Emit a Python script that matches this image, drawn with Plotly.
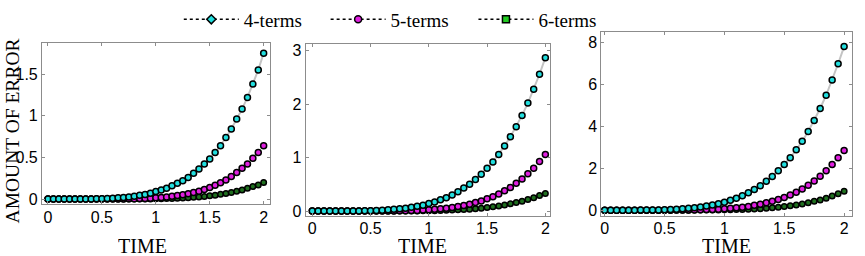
import plotly.graph_objects as go

W, H = 865, 256

time = [0.0, 0.05, 0.1, 0.15, 0.2, 0.25, 0.3, 0.35, 0.4, 0.45,
        0.5, 0.55, 0.6, 0.65, 0.7, 0.75, 0.8, 0.85, 0.9, 0.95,
        1.0, 1.05, 1.1, 1.15, 1.2, 1.25, 1.3, 1.35, 1.4, 1.45,
        1.5, 1.55, 1.6, 1.65, 1.7, 1.75, 1.8, 1.85, 1.9, 1.95, 2.0]

series_names = ["4-terms", "5-terms", "6-terms"]

# Panel 1
p1_4 = [0, 0, 0, 0, 0, 0, 0.0005, 0.001, 0.002, 0.003,
        0.005, 0.008, 0.011, 0.015, 0.02, 0.026, 0.035, 0.045, 0.055, 0.07,
        0.09, 0.11, 0.13, 0.16, 0.19, 0.22, 0.26, 0.31, 0.36, 0.42,
        0.48, 0.56, 0.64, 0.74, 0.84, 0.96, 1.08, 1.22, 1.38, 1.55, 1.75]
p1_5 = [0, 0, 0, 0, 0, 0, 0, 0, 0, 0,
        0, 0, 0.0005, 0.001, 0.002, 0.003, 0.004, 0.006, 0.008, 0.011,
        0.015, 0.02, 0.026, 0.033, 0.042, 0.052, 0.065, 0.08, 0.095, 0.115,
        0.14, 0.165, 0.195, 0.23, 0.27, 0.32, 0.37, 0.42, 0.49, 0.56, 0.64]
p1_6 = [0, 0, 0, 0, 0, 0, 0, 0, 0, 0,
        0, 0, 0, 0, 0, 0.0005, 0.0008, 0.001, 0.0015, 0.002,
        0.003, 0.0045, 0.006, 0.008, 0.01, 0.013, 0.017, 0.021, 0.026, 0.032,
        0.039, 0.047, 0.057, 0.068, 0.08, 0.095, 0.11, 0.13, 0.15, 0.17, 0.2]

# Panel 2
p2_4 = [0, 0, 0, 0, 0, 0, 0.001, 0.002, 0.003, 0.005,
        0.008, 0.012, 0.017, 0.024, 0.032, 0.042, 0.055, 0.07, 0.09, 0.11,
        0.14, 0.17, 0.21, 0.25, 0.3, 0.36, 0.43, 0.5, 0.59, 0.69,
        0.8, 0.92, 1.06, 1.22, 1.39, 1.58, 1.79, 2.02, 2.28, 2.56, 2.87]
p2_5 = [0, 0, 0, 0, 0, 0, 0, 0, 0, 0,
        0.0005, 0.0008, 0.001, 0.002, 0.003, 0.005, 0.007, 0.01, 0.013, 0.018,
        0.025, 0.032, 0.042, 0.054, 0.068, 0.085, 0.105, 0.13, 0.16, 0.19,
        0.23, 0.27, 0.32, 0.38, 0.44, 0.52, 0.6, 0.7, 0.8, 0.93, 1.06]
p2_6 = [0, 0, 0, 0, 0, 0, 0, 0, 0, 0,
        0, 0, 0, 0.0005, 0.0008, 0.001, 0.0015, 0.002, 0.003, 0.004,
        0.006, 0.008, 0.01, 0.014, 0.018, 0.023, 0.029, 0.036, 0.045, 0.055,
        0.067, 0.081, 0.097, 0.115, 0.135, 0.16, 0.185, 0.215, 0.25, 0.29, 0.33]

# Panel 3
p3_4 = [0, 0, 0, 0, 0, 0.001, 0.003, 0.005, 0.009, 0.014,
        0.022, 0.033, 0.047, 0.065, 0.09, 0.12, 0.15, 0.2, 0.25, 0.31,
        0.38, 0.47, 0.57, 0.69, 0.83, 0.99, 1.17, 1.38, 1.6, 1.88,
        2.18, 2.5, 2.88, 3.28, 3.75, 4.28, 4.85, 5.48, 6.2, 6.98, 7.8]
p3_5 = [0, 0, 0, 0, 0, 0, 0, 0, 0.0005, 0.0008,
        0.001, 0.002, 0.004, 0.006, 0.009, 0.013, 0.019, 0.027, 0.037, 0.05,
        0.067, 0.088, 0.115, 0.145, 0.18, 0.23, 0.28, 0.35, 0.42, 0.51,
        0.61, 0.72, 0.86, 1.01, 1.19, 1.39, 1.62, 1.88, 2.18, 2.5, 2.85]
p3_6 = [0, 0, 0, 0, 0, 0, 0, 0, 0, 0,
        0, 0, 0.0005, 0.001, 0.002, 0.003, 0.004, 0.006, 0.008, 0.011,
        0.015, 0.02, 0.027, 0.035, 0.045, 0.058, 0.073, 0.092, 0.115, 0.14,
        0.17, 0.21, 0.25, 0.3, 0.35, 0.42, 0.49, 0.57, 0.67, 0.78, 0.9]

panels = [(p1_4, p1_5, p1_6), (p2_4, p2_5, p2_6), (p3_4, p3_5, p3_6)]

y_tickvals = [[0, 0.5, 1, 1.5], [0, 1, 2, 3], [0, 2, 4, 6, 8]]
y_ticktext = [["0", "0.5", "1", "1.5"], ["0", "1", "2", "3"], ["0", "2", "4", "6", "8"]]
x_tickvals = [0, 0.5, 1, 1.5, 2]
x_ticktext = ["0", "0.5", "1", "1.5", "2"]

# layout (pixels): left, right, top, bottom
boxes = [(41, 269, 38, 206), (305, 550, 39, 218), (601, 852, 26, 218)]
x_ranges = [[-0.056, 2.056], [-0.057, 2.043], [-0.028, 2.066]]
y_ranges = [[-0.061, 1.868], [-0.085, 3.12], [-0.26, 8.5]]
x_standoff = [-1, -2, -2]

fill_colors = ["#22dede", "#e020e0", "#1f6f1f"]
legend_fill = ["#22dede", "#e020e0", "#22cc22"]
legend_symbols = ["diamond", "circle", "square"]
marker_sizes = [6, 6, 5.5]
legend_x_px = [178, 325, 473]

fig = go.Figure()

for k, (s4, s5, s6) in enumerate(panels):
    xa = "x" if k == 0 else f"x{k+1}"
    ya = "y" if k == 0 else f"y{k+1}"
    fig.add_trace(go.Scatter(x=time, y=s4, mode="lines", xaxis=xa, yaxis=ya,
                             line=dict(color="#c4c4c4", width=2), showlegend=False,
                             hoverinfo="skip"))
    for j, s in reversed(list(enumerate([s4, s5, s6]))):
        fig.add_trace(go.Scatter(
            x=time, y=s, mode="markers", xaxis=xa, yaxis=ya,
            name=series_names[j], showlegend=False,
            marker=dict(symbol="circle", size=marker_sizes[j], color=fill_colors[j],
                        line=dict(color="black", width=1.5))))

# legend entries (one legend per entry, for exact placement)
legend_ids = ["legend", "legend2", "legend3"]
for j in range(3):
    fig.add_trace(go.Scatter(
        x=[None], y=[None], mode="lines+markers", name=series_names[j],
        legend=legend_ids[j],
        line=dict(color="black", width=1.5, dash="dot"),
        marker=dict(symbol=legend_symbols[j], size=7, color=legend_fill[j],
                    line=dict(color="black", width=1.5))))

axis_common = dict(showgrid=False, zeroline=False, showline=True, mirror="ticks",
                   linecolor="#8c8c8c", linewidth=1, ticks="inside", ticklen=3,
                   tickcolor="#8c8c8c",
                   tickfont=dict(family="Liberation Sans, Arial", size=16, color="black"))

layout_axes = {}
for k in range(3):
    l, r, t, b = boxes[k]
    xs = "xaxis" if k == 0 else f"xaxis{k+1}"
    ys = "yaxis" if k == 0 else f"yaxis{k+1}"
    anchor_x = "y" if k == 0 else f"y{k+1}"
    anchor_y = "x" if k == 0 else f"x{k+1}"
    layout_axes[xs] = dict(axis_common, domain=[l / W, r / W], range=x_ranges[k],
                           tickvals=x_tickvals, ticktext=x_ticktext, anchor=anchor_x,
                           ticklabelstandoff=x_standoff[k])
    layout_axes[ys] = dict(axis_common, domain=[1 - b / H, 1 - t / H], range=y_ranges[k],
                           tickvals=y_tickvals[k], ticktext=y_ticktext[k], anchor=anchor_y)

legends = {}
for j in range(3):
    legends[legend_ids[j]] = dict(
        orientation="h", x=legend_x_px[j] / W, y=1 - 13 / H, xanchor="left", yanchor="middle",
        font=dict(family="Liberation Serif, Times New Roman", size=19, color="black"),
        itemwidth=55, bgcolor="rgba(0,0,0,0)")

annotations = []
time_centers = [142, 422, 726]
for cx in time_centers:
    annotations.append(dict(text="TIME", x=cx / W, y=0, xref="paper", yref="paper",
                            showarrow=False, xanchor="center", yanchor="bottom",
                            height=18, valign="middle", yshift=-5,
                            font=dict(family="Liberation Serif, Times New Roman", size=20, color="black")))
annotations.append(dict(text="AMOUNT OF ERROR", x=11 / W, y=1 - 129 / H, xref="paper", yref="paper",
                        showarrow=False, textangle=-90, xanchor="center", yanchor="middle",
                        font=dict(family="Liberation Serif, Times New Roman", size=19.5, color="black")))

fig.update_layout(
    width=W, height=H,
    margin=dict(l=0, r=0, t=0, b=0),
    paper_bgcolor="white", plot_bgcolor="white",
    showlegend=True,
    annotations=annotations,
    **legends,
    **layout_axes,
)

fig.write_html("out.html", post_script="document.body.style.margin='0';",
               config={"displayModeBar": False})
